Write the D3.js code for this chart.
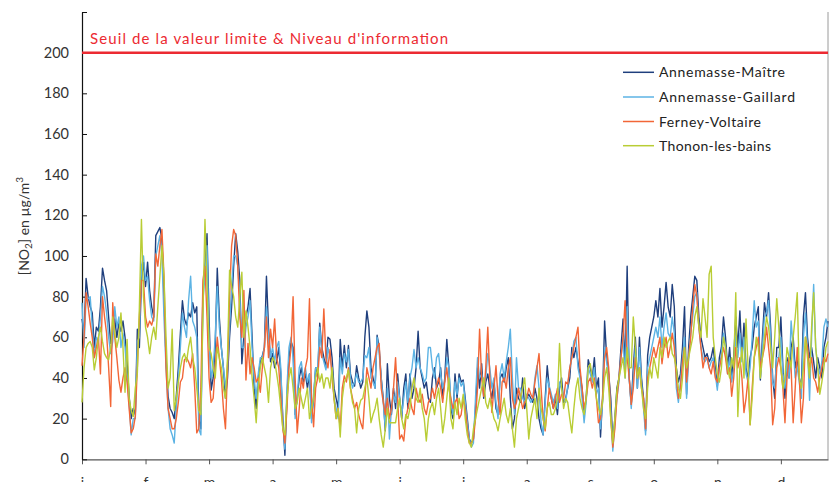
<!DOCTYPE html>
<html>
<head>
<meta charset="utf-8">
<script src="https://cdn.jsdelivr.net/npm/d3@7"></script>
<style>
  body { margin: 0; background: #fff; }
  text { font-family: Lato, "Open Sans", sans-serif; }
</style>
</head>
<body>
<div id="container"></div>
<script>
// Data (daily NO2 values, µg/m3)
const months = ["j", "f", "m", "a", "m", "j", "j", "a", "s", "o", "n", "d"];
const monthDays = [0, 31, 62, 93, 124, 155, 186, 217, 248, 279, 310, 341];
const yTicks = [0, 20, 40, 60, 80, 100, 120, 140, 160, 180, 200, 220];
const threshold = 200;
const thresholdLabel = "Seuil de la valeur limite & Niveau d'information";
const stations = ["Annemasse-Maître", "Annemasse-Gaillard", "Ferney-Voltaire", "Thonon-les-bains"];

const maitre = [
  69, 62, 89, 80, 75, 72, 55, 65, 63, 75,
  94, 88, 83, 70, 57, 62, 69, 60, 67, 63,
  68, 60, 48, 31, 20, 25, 22, 64, 55, 88,
  97, 85, 97, 83, 75, 70, 110, 112, 114, 108,
  80, 50, 31, 25, 23, 20, 31, 45, 62, 78,
  69, 66, 72, 70, 77, 72, 75, 20, 15, 83,
  95, 111, 70, 34, 40, 55, 94, 70, 55, 45,
  30, 40, 60, 75, 95, 111, 102, 88, 47, 60,
  70, 75, 84, 60, 35, 25, 40, 48, 51, 55,
  90, 65, 48, 52, 45, 48, 55, 42, 20, 2,
  30, 50, 58, 55, 22, 30, 40, 45, 38, 42,
  35, 42, 20, 30, 45, 40, 67, 55, 50, 45,
  60, 59, 50, 35, 30, 25, 59, 45, 56, 45,
  56, 42, 38, 36, 46, 40, 35, 38, 60, 73,
  65, 45, 40, 35, 61, 55, 40, 30, 14, 47,
  30, 22, 35, 25, 42, 30, 20, 35, 42, 25,
  42, 30, 35, 45, 63, 45, 40, 35, 38, 30,
  28, 40, 45, 35, 38, 45, 30, 40, 59, 45,
  25, 20, 42, 30, 42, 38, 39, 30, 20, 10,
  8, 10, 25, 45, 35, 47, 30, 38, 42, 35,
  30, 38, 25, 22, 40, 42, 38, 45, 50, 30,
  15, 20, 35, 30, 28, 40, 25, 30, 32, 30,
  28, 35, 30, 20, 15, 12, 30, 46, 35, 30,
  25, 30, 22, 35, 40, 28, 30, 35, 40, 55,
  50, 55, 48, 42, 35, 22, 30, 49, 45, 40,
  50, 35, 40, 11, 30, 68, 50, 42, 30, 8,
  20, 35, 40, 55, 69, 45, 95, 40, 27, 45,
  60, 35, 60, 40, 30, 14, 51, 60, 65, 70,
  78, 70, 84, 65, 75, 87, 75, 70, 86, 75,
  45, 38, 42, 55, 75, 32, 55, 70, 80, 90,
  88, 70, 60, 55, 50, 52, 48, 50, 55, 45,
  36, 50, 55, 70, 60, 45, 55, 40, 50, 70,
  55, 73, 50, 67, 45, 40, 50, 55, 65, 70,
  75, 39, 60, 77, 70, 82, 65, 40, 30, 55,
  55, 70, 45, 30, 50, 40, 55, 60, 45, 50,
  40, 35, 70, 82, 60, 50, 55, 48, 40, 50,
  45, 40, 55, 60, 68
];

const gaillard = [
  77, 55, 80, 79, 80, 65, 50, 60, 58, 70,
  85, 80, 72, 60, 52, 58, 75, 65, 70, 55,
  62, 55, 40, 28, 12, 20, 20, 58, 60, 95,
  100, 88, 90, 78, 70, 68, 100, 105, 110, 100,
  70, 45, 25, 15, 12, 8, 25, 40, 55, 72,
  65, 60, 78, 90, 68, 65, 60, 15, 12, 78,
  90, 105, 60, 40, 45, 60, 85, 65, 55, 45,
  35, 45, 65, 85, 100, 100, 95, 80, 55, 55,
  65, 70, 78, 55, 40, 30, 42, 50, 50, 55,
  75, 60, 50, 55, 48, 55, 58, 45, 18, 5,
  35, 55, 60, 50, 20, 30, 45, 48, 40, 45,
  38, 42, 18, 32, 45, 45, 65, 52, 48, 44,
  55, 50, 45, 30, 25, 20, 50, 42, 52, 48,
  54, 40, 35, 38, 42, 38, 38, 40, 51, 50,
  55, 40, 38, 35, 60, 52, 40, 28, 15, 35,
  10, 25, 32, 28, 38, 30, 22, 30, 38, 28,
  40, 45, 54, 45, 50, 45, 42, 38, 40, 55,
  55, 45, 40, 50, 52, 42, 35, 38, 50, 45,
  28, 22, 38, 32, 40, 36, 38, 28, 18, 10,
  6, 8, 30, 50, 40, 42, 35, 40, 52, 45,
  35, 40, 28, 20, 42, 47, 40, 48, 55, 64,
  40, 22, 50, 35, 35, 30, 28, 32, 30, 28,
  30, 40, 46, 35, 18, 12, 28, 40, 36, 32,
  28, 32, 25, 38, 35, 30, 28, 36, 45, 50,
  58, 60, 45, 40, 30, 18, 28, 45, 42, 38,
  45, 32, 35, 15, 28, 55, 48, 40, 25, 4,
  18, 30, 38, 50, 60, 40, 75, 40, 25, 40,
  55, 35, 55, 38, 25, 12, 45, 50, 55, 60,
  65, 60, 70, 55, 65, 72, 62, 60, 70, 62,
  35, 28, 38, 50, 60, 30, 50, 62, 70, 80,
  82, 65, 55, 50, 48, 50, 45, 48, 50, 42,
  34, 45, 52, 62, 55, 42, 50, 38, 45, 60,
  50, 62, 48, 60, 42, 38, 45, 60, 78, 65,
  68, 40, 55, 70, 72, 78, 60, 38, 35, 50,
  50, 60, 42, 35, 48, 40, 68, 55, 40, 45,
  38, 30, 60, 72, 55, 29, 60, 86, 55, 45,
  42, 48, 65, 69, 65
];

const ferney = [
  46, 60, 82, 75, 67, 60, 50, 55, 60, 42,
  80, 70, 62, 45, 26, 77, 60, 50, 39, 33,
  40, 45, 38, 25, 13, 15, 21, 45, 70, 88,
  88, 70, 65, 68, 66, 70, 101, 95, 105, 113,
  90, 45, 25, 20, 15, 15, 20, 28, 38, 40,
  49, 50, 48, 45, 52, 35, 13, 15, 35, 88,
  95, 70, 40, 28, 30, 45, 60, 50, 40, 25,
  15, 45, 80, 105, 113, 110, 95, 70, 60, 83,
  39, 57, 42, 50, 45, 38, 40, 33, 45, 55,
  70, 50, 64, 55, 69, 50, 45, 30, 15, 8,
  25, 45, 55, 80, 40, 13, 25, 40, 35, 45,
  50, 79, 30, 16, 35, 40, 55, 50, 74, 50,
  45, 54, 40, 30, 20, 25, 15, 35, 41, 38,
  45, 35, 30, 25, 28, 22, 18, 15, 30, 45,
  40, 35, 45, 50, 55, 57, 35, 28, 22, 30,
  20, 25, 35, 50, 30, 10, 12, 9, 20, 25,
  30, 25, 22, 35, 30, 28, 32, 25, 22, 28,
  30, 35, 30, 36, 40, 35, 28, 38, 45, 35,
  30, 25, 28, 30, 20, 22, 30, 25, 15, 8,
  8, 10, 20, 35, 64, 40, 31, 45, 65, 40,
  23, 35, 46, 30, 22, 38, 40, 35, 45, 50,
  30, 25, 28, 35, 30, 25, 28, 30, 35, 32,
  30, 38, 45, 52, 35, 20, 14, 25, 35, 30,
  25, 30, 35, 28, 32, 30, 38, 37, 45, 50,
  55, 60, 65, 45, 35, 25, 30, 38, 40, 35,
  40, 30, 18, 20, 30, 50, 55, 45, 20, 6,
  15, 30, 40, 50, 60, 78, 50, 40, 27, 35,
  50, 40, 45, 35, 30, 15, 40, 45, 50, 55,
  50, 55, 60, 47, 55, 60, 50, 55, 62, 55,
  40, 30, 35, 48, 55, 38, 50, 60, 75, 86,
  80, 65, 55, 45, 50, 50, 45, 42, 48, 40,
  38, 45, 50, 55, 50, 42, 45, 31, 40, 55,
  45, 50, 40, 23, 30, 40, 17, 35, 50, 55,
  60, 45, 50, 55, 65, 55, 45, 17, 25, 45,
  50, 45, 35, 18, 40, 50, 45, 18, 35, 55,
  40, 18, 30, 60, 55, 45, 50, 40, 38, 33,
  40, 45, 50, 48, 52
];

const thonon = [
  28, 45, 55, 57, 58, 55, 44, 50, 60, 65,
  58, 52, 50, 49, 55, 70, 62, 55, 60, 72,
  55, 33, 59, 30, 24, 21, 35, 42, 75, 118,
  80, 65, 60, 52, 60, 65, 59, 75, 90, 105,
  90, 60, 35, 40, 64, 24, 30, 38, 45, 50,
  52, 48, 55, 60, 50, 45, 35, 24, 22, 70,
  118, 85, 55, 52, 45, 40, 55, 50, 45, 35,
  30, 50, 93, 85, 80, 70, 65, 80, 92, 60,
  73, 65, 55, 40, 30, 18, 35, 45, 50, 45,
  40, 28, 45, 50, 48, 42, 35, 25, 15, 12,
  30, 40, 45, 35, 25, 28, 35, 30, 25, 30,
  35, 20, 25, 30, 40, 45, 38, 42, 35, 40,
  40, 35, 45, 30, 20, 25, 11, 30, 38, 40,
  44, 35, 28, 25, 13, 25, 29, 30, 35, 40,
  30, 18, 22, 25, 30, 20, 12, 6, 15, 25,
  18, 18, 18, 18, 25, 30, 20, 15, 22, 20,
  25, 35, 40, 30, 28, 35, 25, 20, 9, 20,
  25, 28, 22, 30, 35, 25, 13, 20, 30, 40,
  20, 15, 28, 22, 30, 25, 32, 20, 12, 8,
  6, 15, 20, 25, 30, 35, 40, 28, 25, 30,
  25, 20, 18, 14, 20, 25, 30, 22, 18, 25,
  15, 6, 20, 25, 30, 35, 40, 25, 10, 20,
  25, 30, 20, 35, 25, 20, 15, 25, 28, 22,
  22, 25, 30, 57, 35, 25, 30, 28, 20, 13,
  25, 35, 40, 30, 25, 22, 30, 45, 47, 40,
  38, 30, 25, 22, 28, 40, 45, 35, 20, 8,
  20, 34, 40, 45, 50, 40, 55, 45, 45, 70,
  55, 40, 45, 35, 25, 20, 35, 45, 40, 50,
  45, 40, 55, 50, 60, 55, 58, 60, 52, 50,
  45, 35, 30, 40, 55, 45, 50, 55, 60, 70,
  75, 65, 60, 79, 70, 60, 91, 95, 60, 50,
  42, 38, 45, 60, 55, 45, 40, 50, 45, 82,
  21, 45, 55, 40, 69, 45, 17, 30, 50, 60,
  55, 40, 50, 60, 70, 65, 55, 45, 60, 79,
  65, 45, 35, 40, 55, 50, 45, 60, 70, 82,
  40, 35, 45, 60, 50, 40, 65, 82, 55, 45,
  32, 38, 45, 55, 58
];

const series = [maitre, gaillard, ferney, thonon];

// Constants
const width = 836;
const height = 482;
const colors = ["#1f3f7d", "#5cb3e4", "#f26637", "#b9cd35"];
const legendWidths = [126, 136, 102, 112];

const xScale = d3.scaleLinear().domain([0, 364]).range([82, 828]);
const yScale = d3.scaleLinear().domain([0, 220]).range([459.3, 12]);

const svg = d3
  .select("#container")
  .append("svg")
  .attr("width", width)
  .attr("height", height)
  .style("display", "block");

svg.append("rect").attr("width", width).attr("height", height).attr("fill", "#fff");

// right frame
svg
  .append("line")
  .attr("x1", 828)
  .attr("x2", 828)
  .attr("y1", yScale(220))
  .attr("y2", yScale(0))
  .attr("stroke", "#9a9a9a")
  .attr("stroke-width", 1);

// Axes
const yAxis = d3
  .axisLeft(yScale)
  .tickValues(yTicks)
  .tickSize(-5)
  .tickSizeOuter(0)
  .tickPadding(13)
  .tickFormat((d) => (d === 220 ? "" : d));

const xAxis = d3
  .axisBottom(xScale)
  .tickValues(monthDays)
  .tickSize(5)
  .tickSizeOuter(0)
  .tickPadding(13)
  .tickFormat((d, i) => months[i]);

const gx = svg
  .append("g")
  .attr("id", "x-axis")
  .attr("transform", `translate(0,${yScale(0)})`)
  .call(xAxis);
gx.select(".domain").attr("stroke", "#555").attr("stroke-width", 1.2);
gx.selectAll(".tick line").attr("stroke", "#555");
gx.selectAll("text").attr("font-size", 14).attr("fill", "#333").attr("font-family", "Lato, sans-serif");

const gy = svg
  .append("g")
  .attr("id", "y-axis")
  .attr("transform", `translate(${xScale(0)},0)`)
  .call(yAxis);
gy.select(".domain").attr("stroke", "#111").attr("stroke-width", 1.2);
gy.selectAll(".tick line").attr("stroke", "#111");
gy.selectAll("text").attr("font-size", 14.5).attr("fill", "#333").attr("font-family", "Lato, sans-serif");

// Y label
const ylab = svg
  .append("text")
  .attr("transform", "translate(29,226) rotate(-90)")
  .attr("text-anchor", "middle")
  .attr("font-size", 14)
  .attr("fill", "#333");
ylab.append("tspan").text("[NO");
ylab.append("tspan").attr("font-size", 10).attr("dy", 3).text("2");
ylab.append("tspan").attr("dy", -3).text("] en µg/m");
ylab.append("tspan").attr("font-size", 10).attr("dy", -6).text("3");

// Lines
const line = d3
  .line()
  .x((d, i) => xScale(i))
  .y((d) => yScale(d));

svg
  .append("g")
  .selectAll("path")
  .data(series)
  .enter()
  .append("path")
  .attr("d", (d) => line(d))
  .attr("fill", "none")
  .attr("stroke", (d, i) => colors[i])
  .attr("stroke-width", 1.4)
  .attr("stroke-linejoin", "round");

// Threshold
svg
  .append("line")
  .attr("x1", xScale(0))
  .attr("x2", 828)
  .attr("y1", yScale(threshold))
  .attr("y2", yScale(threshold))
  .attr("stroke", "#ec2a32")
  .attr("stroke-width", 2.5);

svg
  .append("text")
  .attr("x", 90)
  .attr("y", 44)
  .attr("font-size", 15)
  .attr("fill", "#ec2a32")
  .attr("textLength", 358)
  .attr("lengthAdjust", "spacing")
  .text(thresholdLabel);

// Legend
const legend = svg.append("g").attr("id", "legend");
const legendY = [72.3, 97, 121.5, 145.7];

legend
  .selectAll("line")
  .data(stations)
  .enter()
  .append("line")
  .attr("x1", 623)
  .attr("x2", 654)
  .attr("y1", (d, i) => legendY[i])
  .attr("y2", (d, i) => legendY[i])
  .attr("stroke", (d, i) => colors[i])
  .attr("stroke-width", 1.5);

legend
  .selectAll("text")
  .data(stations)
  .enter()
  .append("text")
  .attr("x", 659)
  .attr("y", (d, i) => legendY[i] + 5)
  .attr("font-size", 14)
  .attr("fill", "#222")
  .attr("textLength", (d, i) => legendWidths[i])
  .attr("lengthAdjust", "spacing")
  .text((d) => d);
</script>
</body>
</html>
